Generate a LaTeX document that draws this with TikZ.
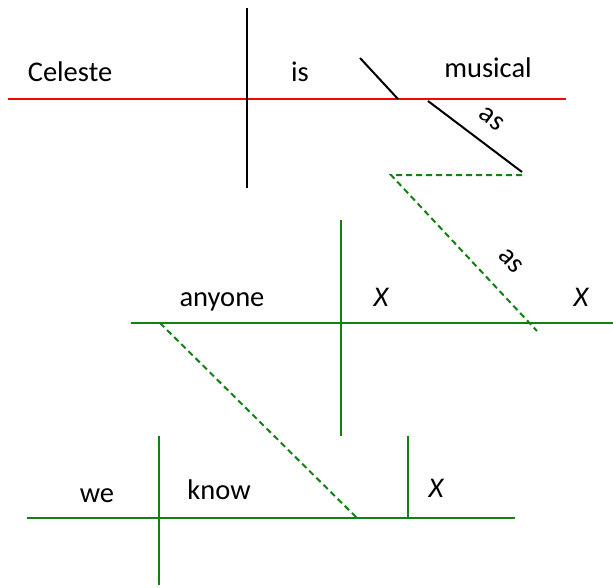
\documentclass[tikz,border=0pt]{standalone}
\usepackage{fontspec}
\setmainfont{Carlito}
\definecolor{dgreen}{RGB}{20,128,20}
\begin{document}
\begin{tikzpicture}[x=1pt,y=-1pt,
  word/.style={font=\fontsize{28.5}{31}\selectfont, inner sep=0pt, anchor=base},
  redline/.style={draw=red, line width=2pt},
  blackline/.style={draw=black, line width=2pt},
  gline/.style={draw=dgreen, line width=2pt},
  gdash/.style={draw=dgreen, line width=2pt, dash pattern=on 6pt off 4pt}]
\useasboundingbox (0,0) rectangle (613,587);
% coordinates
\coordinate (r1) at (8,99);
\coordinate (r2) at (566,99);
\coordinate (v1t) at (247,8);
\coordinate (v1b) at (247,188);
\coordinate (pa1) at (360,58);
\coordinate (pa2) at (398,99);
\coordinate (as1a) at (428,101);
\coordinate (as1b) at (522,172);
\coordinate (d1) at (391,175);
\coordinate (d2) at (522,175);
\coordinate (d3) at (537,331);
\coordinate (g1a) at (131,323);
\coordinate (g1b) at (613,323);
\coordinate (v2t) at (341,220);
\coordinate (v2b) at (341,436);
\coordinate (e1) at (160,323);
\coordinate (e2) at (357,518);
\coordinate (g2a) at (27,518);
\coordinate (g2b) at (515,518);
\coordinate (v3t) at (159,436);
\coordinate (v3b) at (159,585);
\coordinate (v4t) at (408,436);
\coordinate (v4b) at (408,518);
% lines
\draw[redline] (r1) -- (r2);
\draw[blackline] (v1t) -- (v1b);
\draw[blackline] (pa1) -- (pa2);
\draw[blackline] (as1a) -- (as1b);
\draw[gdash] (d2) -- (d1) -- (d3);
\draw[gline] (g1a) -- (g1b);
\draw[gline] (v2t) -- (v2b);
\draw[gdash] (e1) -- (e2);
\draw[gline] (g2a) -- (g2b);
\draw[gline] (v3t) -- (v3b);
\draw[gline] (v4t) -- (v4b);
% words
\node[word] (celeste) at (70,81) {Celeste};
\node[word] (is) at (300,81) {is};
\node[word] (musical) at (488,77) {musical};
\node[word, anchor=center, rotate=-37] (as1) at (492,119) {as};
\node[word, anchor=center, rotate=-47] (as2) at (511,261) {as};
\node[word] (anyone) at (222,306) {anyone};
\node[word] (x1) at (381,306) {\itshape X};
\node[word] (x2) at (581,306) {\itshape X};
\node[word] (we) at (97,502) {we};
\node[word] (know) at (219,499) {know};
\node[word] (x3) at (436,497) {\itshape X};
\end{tikzpicture}
\end{document}
